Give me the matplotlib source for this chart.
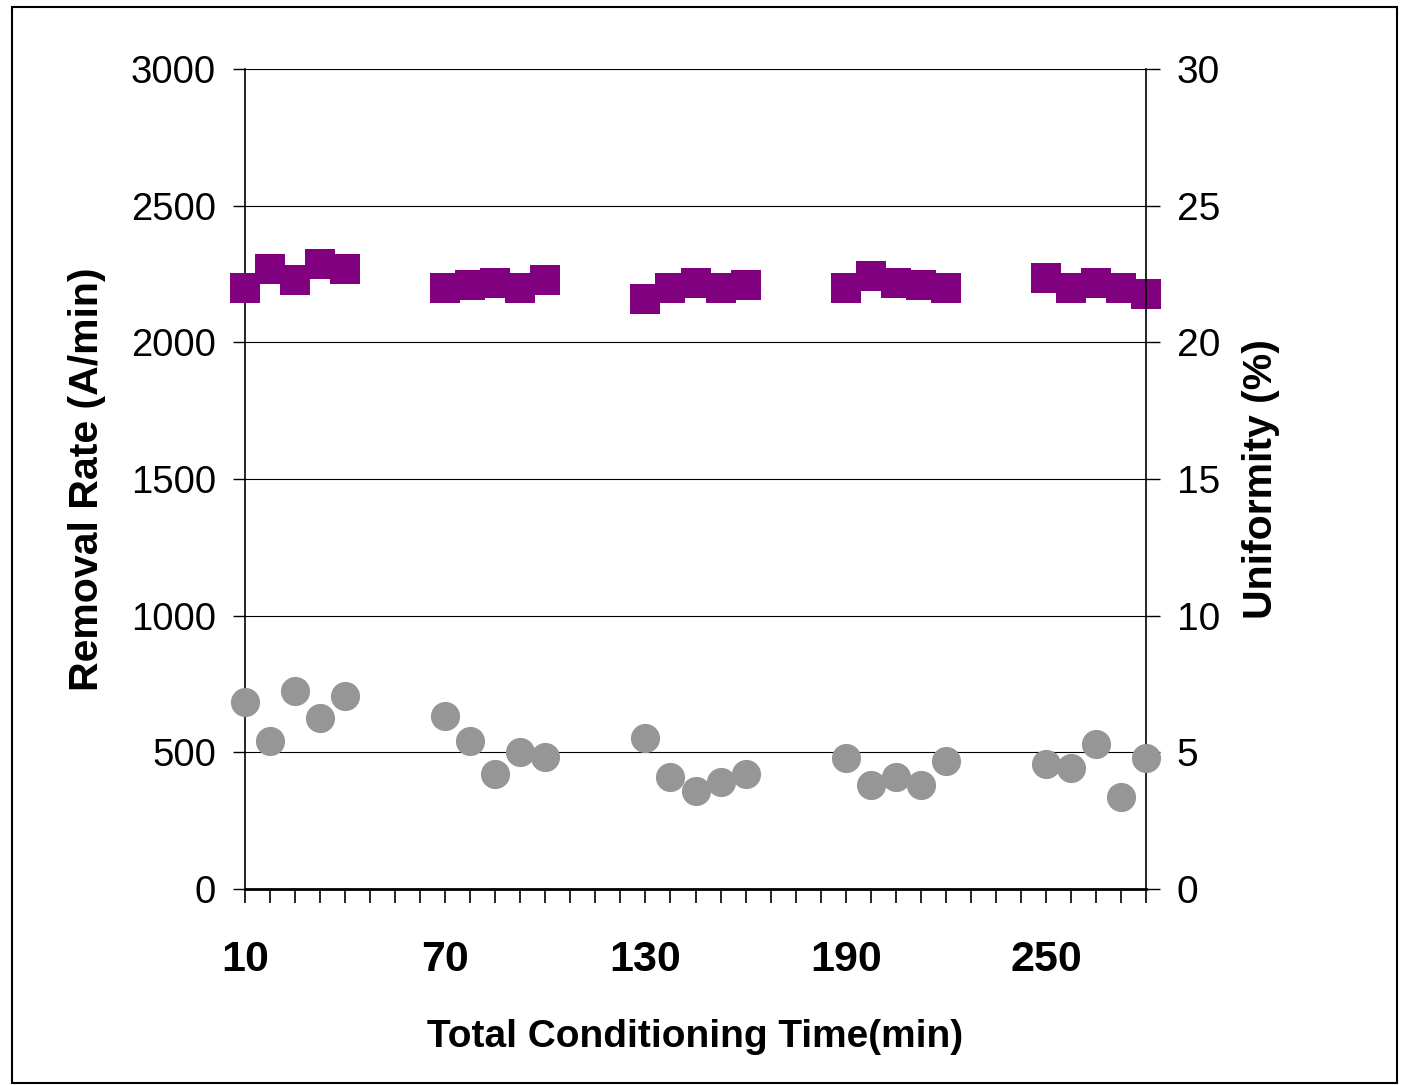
import numpy as np
import matplotlib.pyplot as plt
from matplotlib.patches import Rectangle

# Data: five conditioning runs, five measurements each
time_min = [10, 17.5, 25, 32.5, 40,
            70, 77.5, 85, 92.5, 100,
            130, 137.5, 145, 152.5, 160,
            190, 197.5, 205, 212.5, 220,
            250, 257.5, 265, 272.5, 280]
removal_rate = [2200, 2268, 2228, 2288, 2268,
                2200, 2210, 2217, 2200, 2228,
                2157, 2200, 2217, 2200, 2210,
                2200, 2243, 2217, 2210, 2200,
                2237, 2200, 2217, 2200, 2177]   # A/min
uniformity = [6.84, 5.41, 7.24, 6.26, 7.06,
              6.33, 5.41, 4.21, 5.01, 4.83,
              5.52, 4.10, 3.57, 3.90, 4.19,
              4.81, 3.79, 4.10, 3.79, 4.70,
              4.59, 4.41, 5.32, 3.38, 4.81]       # %

x_ticks = np.arange(10, 280.1, 7.5)
x_labels = ['10', '70', '130', '190', '250']

plt.rcParams['font.family'] = ['Liberation Sans', 'DejaVu Sans']

W, H = 1403, 1085
fig = plt.figure(figsize=(W / 100, H / 100), dpi=100)
ax = fig.add_axes([245 / W, 1 - 889 / H, 901 / W, 820 / H])
ax2 = ax.twinx()

# Removal rate (left axis)
ax.plot(time_min, removal_rate, ls='none', marker='s', ms=21, mew=0,
        color='#800080', clip_on=False, zorder=3)
ax.set_ylim(0, 3000)
ax.set_yticks(np.arange(0, 3001, 500))
ax.set_xlim(10, 280)
ax.set_xticks(x_ticks)
ax.set_xticklabels([f'{t:g}' if f'{t:g}' in x_labels else '' for t in x_ticks],
                   fontsize=31, fontweight='bold')
ax.tick_params(axis='x', direction='out', length=10, width=1.2, pad=27)
ax.tick_params(axis='y', direction='out', length=9, width=1.0, labelsize=27.5, pad=12)
ax.grid(axis='y', color='black', lw=0.8)
ax.set_axisbelow(True)
ax.spines['top'].set_visible(False)
ax.spines['right'].set_visible(False)
ax.spines['bottom'].set_linewidth(2.0)
ax.spines['left'].set_linewidth(1.2)
ax.set_ylabel('Removal Rate (A/min)', fontsize=29.5, fontweight='bold', labelpad=18)
ax.set_xlabel('Total Conditioning Time(min)', fontsize=28, fontweight='bold', labelpad=28)

# Uniformity (right axis)
ax2.plot(time_min, uniformity, ls='none', marker='o', ms=21, mew=0,
         color='#969696', clip_on=False, zorder=3)
ax2.set_ylim(0, 30)
ax2.set_yticks(np.arange(0, 31, 5))
ax2.tick_params(axis='y', direction='out', length=10, width=1.0, labelsize=28, pad=12)
for s in ['top', 'left', 'bottom']:
    ax2.spines[s].set_visible(False)
ax2.spines['right'].set_linewidth(1.2)
ax2.set_ylabel('Uniformity (%)', fontsize=29.5, fontweight='bold', rotation=90, labelpad=16)

# Chart border
fig.patches.append(Rectangle((12 / W, 2 / H), (1397 - 12) / W, (1078 - 2) / H,
                             transform=fig.transFigure, fill=False,
                             edgecolor='black', lw=1.5))

fig.savefig('out.png', dpi=100)
